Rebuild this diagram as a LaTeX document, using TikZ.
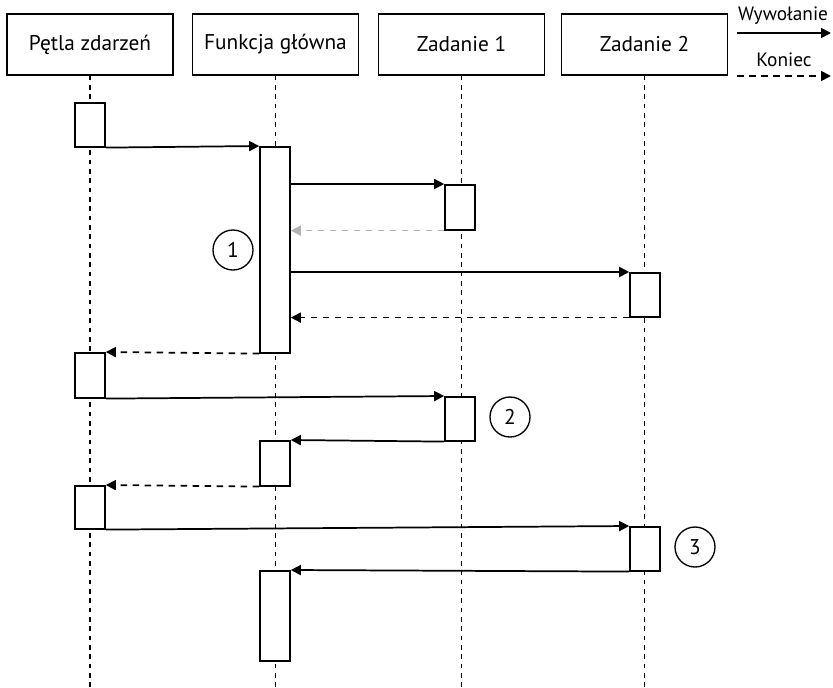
\documentclass[tikz,border=0pt]{standalone}
\usepackage{fontspec}
\setmainfont{PT Sans}
\usepackage{tikz}
\usetikzlibrary{arrows.meta,calc,positioning}

\tikzset{
  head/.style={draw,line width=1.2pt,minimum width=124.5pt,minimum height=45.75pt,inner sep=0pt,font=\fontsize{16}{18}\selectfont},
  act/.style={draw,fill=white,line width=1.2pt,minimum width=22.5pt,inner sep=0pt,anchor=north},
  life/.style={line width=1pt,dash pattern=on 3.5pt off 3.5pt},
  call/.style={line width=1.3pt,-{Triangle[length=7.5pt,width=7.5pt]}},
  ret/.style={line width=1.3pt,dash pattern=on 5pt off 4pt,-{Triangle[length=7.5pt,width=7.5pt]}},
  num/.style={draw,circle,line width=1pt,minimum size=30pt,inner sep=0pt,font=\fontsize{16}{18}\selectfont}
}

\begin{document}
\begin{tikzpicture}[x=0.75pt,y=-0.75pt]
		\useasboundingbox (0,0) rectangle (833,687);
		% naglowki
		\node[head] (petla) at (90,44.5) {Pętla zdarzeń};
		\node[head] (funkcja) at (275.5,44.5) {Funkcja główna};
		\node[head] (zad1) at (461.5,44.5) {Zadanie 1};
		\node[head] (zad2) at (644.5,44.5) {Zadanie 2};
		% linie zycia
		\draw[life] (petla.south) -- (petla.south |- 0,687);
		\draw[life] (funkcja.south) -- (funkcja.south |- 0,687);
		\draw[life] (zad1.south) -- (zad1.south |- 0,687);
		\draw[life] (zad2.south) -- (zad2.south |- 0,687);
		% aktywacje
		\node[act,minimum height=33pt] (l1) at (90,102) {};
		\node[act,minimum height=154.5pt] (f1) at (275,146) {};
		\node[act,minimum height=33.75pt] (t1) at (460,184) {};
		\node[act,minimum height=33pt] (z1) at (645,272) {};
		\node[act,minimum height=33.75pt] (l2) at (90,352) {};
		\node[act,minimum height=33pt] (t2) at (460,396) {};
		\node[act,minimum height=33.75pt] (f2) at (275,440) {};
		\node[act,minimum height=32.25pt] (l3) at (90,485) {};
		\node[act,minimum height=33pt] (z2) at (645,526) {};
		\node[act,minimum height=67.5pt] (f3) at (275,570) {};
		% komunikaty
		\draw[call] (l1.south east) -- (f1.north west);
		\draw[call] (f1.east |- t1.north west) -- (t1.north west);
		\draw[ret,gray!60] (t1.south west) -- (f1.east |- t1.south west);
		\draw[call] (f1.east |- z1.north west) -- (z1.north west);
		\draw[ret] (z1.south west) -- (f1.east |- z1.south west);
		\draw[ret] (f1.south west) -- (l2.north east);
		\draw[call] (l2.south east) -- (t2.north west);
		\draw[call] (t2.south west) -- (f2.north east);
		\draw[ret] (f2.south west) -- (l3.north east);
		\draw[call] (l3.south east) -- (z2.north west);
		\draw[call] (z2.south west) -- (f3.north east);
		% numery
		\node[num] (n1) at (233,250) {1};
		\node[num] (n2) at (510,417) {2};
		\node[num] (n3) at (695,547) {3};
		% legenda
		\node[font=\fontsize{14.5}{16}\selectfont] (wyw) at (783,16) {Wywołanie};
		\node[font=\fontsize{14.5}{16}\selectfont] (kon) at (784,60) {Koniec};
		\coordinate (wa) at (737,33);
		\coordinate (wb) at (831,33);
		\coordinate (ka) at (737,76);
		\coordinate (kb) at (831,76);
		\draw[call] (wa) -- (wb);
		\draw[ret] (ka) -- (kb);
\end{tikzpicture}
\end{document}
